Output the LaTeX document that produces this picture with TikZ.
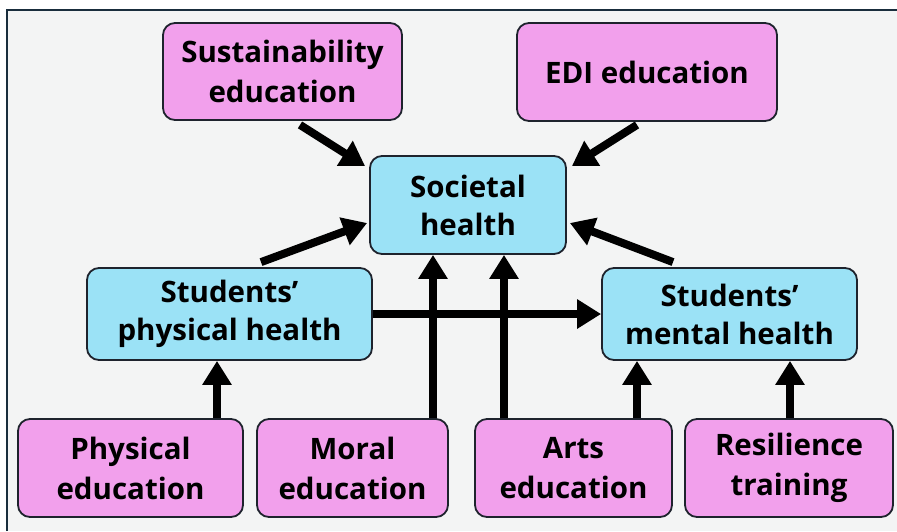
\documentclass[tikz,border=0pt]{standalone}
\usepackage{fontspec}
\setmainfont{Open Sans}
\usetikzlibrary{arrows.meta,calc}
\definecolor{pinkfill}{RGB}{242,160,236}
\definecolor{bluefill}{RGB}{155,226,246}
\definecolor{bgfill}{RGB}{243,244,244}
\definecolor{framecol}{RGB}{25,45,60}
\definecolor{boxline}{RGB}{30,35,45}
\tikzset{
  box/.style={draw=boxline, line width=1.8pt, rounded corners=12pt, align=center,
    inner sep=0pt, font=\fontsize{29.5}{40}\selectfont\bfseries},
  pinkbox/.style={box, fill=pinkfill},
  bluebox/.style={box, fill=bluefill, font=\fontsize{29.5}{38}\selectfont\bfseries},
  arr/.style={line width=8pt, -{Triangle[length=24pt,width=28pt]}},
}
\begin{document}
\begin{tikzpicture}[x=1pt,y=-1pt]
\useasboundingbox (0,0) rectangle (897,531);
\fill[white] (0,0) rectangle (897,531);
\fill[bgfill] (7,10) rectangle (897,531);
\draw[framecol, line width=2pt] (7,531) -- (7,10) -- (897,10);

\node[pinkbox, minimum width=239pt, minimum height=97pt] (sus) at (282.5,71.5) {Sustainability\\education};
\node[pinkbox, minimum width=260pt, minimum height=98pt] (edi) at (647,72) {EDI education};
\node[bluebox, minimum width=196pt, minimum height=98pt] (soc) at (468,205) {Societal\\health};
\node[bluebox, minimum width=285pt, minimum height=92pt] (psh) at (229.5,314) {Students’\\physical health};
\node[bluebox, minimum width=255pt, minimum height=92pt] (mh) at (729.5,314) {Students’\\mental health};
\node[pinkbox, minimum width=225pt, minimum height=98pt] (pe) at (130.5,468) {Physical\\education};
\node[pinkbox, minimum width=191pt, minimum height=98pt] (me) at (352.5,468) {Moral\\education};
\node[pinkbox, minimum width=197pt, minimum height=98pt] (ae) at (573.5,468) {Arts\\education};
\node[pinkbox, minimum width=208pt, minimum height=98pt] (rt) at (789,468) {Resilience\\training};

\draw[arr] ($(sus.south)+(17.5,4)$) -- ($(soc.north west)+(-4,11)$);
\draw[arr] ($(edi.south)+(-10,3)$) -- ($(soc.north east)+(5,11)$);
\draw[arr] ($(psh.north)+(31.5,-5)$) -- ($(soc.west)+(-2,18)$);
\draw[arr] ($(mh.north)+(-56.5,-5)$) -- ($(soc.east)+(3,18)$);
\draw[arr] (psh.east) -- (mh.west);
\coordinate (m1) at ($(me.north)+(80.5,0)$);
\coordinate (a1) at ($(ae.north)+(-69.5,0)$);
\coordinate (p1) at ($(pe.north)+(86.5,0)$);
\coordinate (a2) at ($(ae.north)+(63.5,0)$);
\coordinate (r1) at ($(rt.north)+(1,0)$);
\draw[arr] (m1) -- (m1 |- soc.south);
\draw[arr] (a1) -- (a1 |- soc.south);
\draw[arr] (p1) -- (p1 |- psh.south);
\draw[arr] (a2) -- (a2 |- mh.south);
\draw[arr] (r1) -- (r1 |- mh.south);
\end{tikzpicture}
\end{document}
